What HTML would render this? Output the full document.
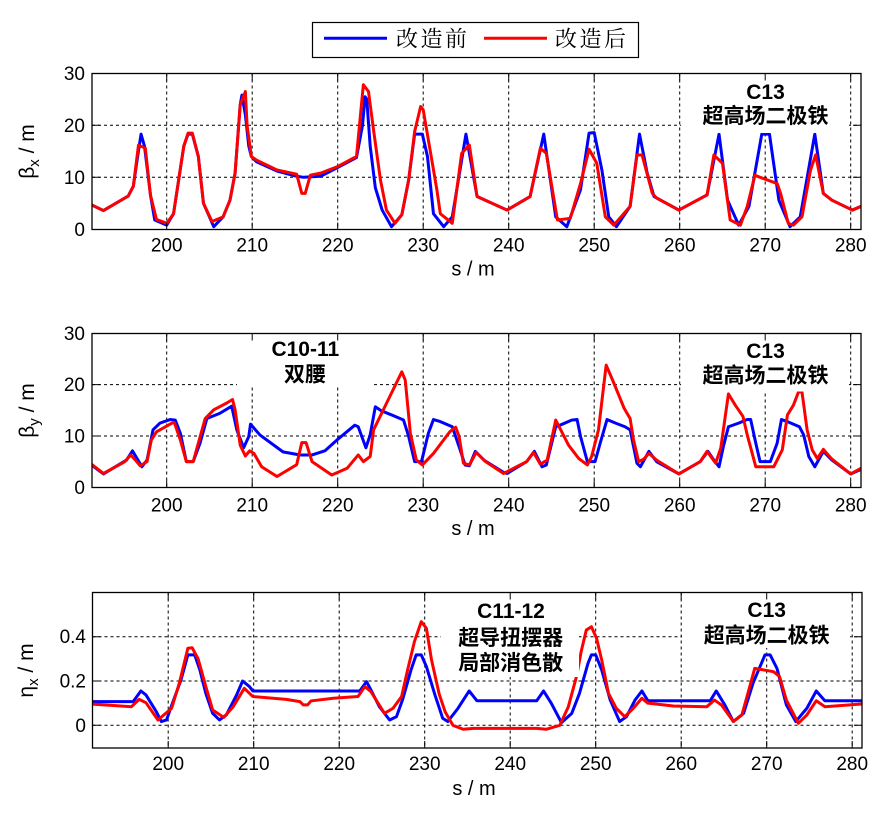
<!DOCTYPE html>
<html><head><meta charset="utf-8"><style>
html,body{margin:0;padding:0;background:#fff;}
svg{display:block;}
text{font-family:"Liberation Sans","Noto Sans CJK SC",sans-serif;fill:#000;}
.tk{font-size:19px;}
.xl{font-size:20px;}
.yl{font-size:21px;}
.an{font-size:21px;font-weight:bold;}
.lg{font-family:"Liberation Serif","Noto Serif CJK SC",serif;font-size:22px;letter-spacing:2.5px;}
.grid{stroke:#000;stroke-width:1;stroke-dasharray:3,3;fill:none;}
.ax{stroke:#000;stroke-width:1.3;fill:none;}
.tick{stroke:#000;stroke-width:1;}
.b{fill:none;stroke:#0000ff;stroke-width:3;stroke-linejoin:round;}
.r{fill:none;stroke:#ff0000;stroke-width:3;stroke-linejoin:round;}
</style></head><body>
<svg width="896" height="817" viewBox="0 0 896 817" xmlns="http://www.w3.org/2000/svg">
<rect width="896" height="817" fill="#fff"/>
<defs>
<clipPath id="c1"><rect x="92" y="73.5" width="769" height="156"/></clipPath>
<clipPath id="c2"><rect x="92" y="333.5" width="769" height="154"/></clipPath>
<clipPath id="c3"><rect x="92.5" y="592.5" width="769.5" height="155.5"/></clipPath>
</defs>

<!-- Legend -->
<rect x="312.5" y="22.5" width="326" height="35" fill="#fff" stroke="#000" stroke-width="1.2"/>
<line x1="324" y1="38.3" x2="387" y2="38.3" stroke="#0000ff" stroke-width="3"/>
<text class="lg" x="396" y="39" dominant-baseline="central">改造前</text>
<line x1="484" y1="38.3" x2="547" y2="38.3" stroke="#ff0000" stroke-width="3"/>
<text class="lg" x="555" y="39" dominant-baseline="central">改造后</text>

<!-- ========== Plot 1 ========== -->
<g class="grid">
<path d="M166.7 73.5V229.5M252.2 73.5V229.5M337.7 73.5V229.5M423.2 73.5V229.5M508.7 73.5V229.5M594.2 73.5V229.5M679.7 73.5V229.5M765.2 73.5V229.5M850.7 73.5V229.5"/>
<path d="M92 177.3H861M92 125.3H861"/>
</g>
<g clip-path="url(#c1)">
<g transform="matrix(8.55 0 0 -5.2 -1543.3 229.3)">
<polyline class="b" vector-effect="non-scaling-stroke" points="191.2,4.7 192.6,3.6 195.5,6.4 196.1,8.3 196.6,14 197.0,18.3 197.4,16 198.1,6.6 198.6,1.8 200,0.8 200.8,3 202,16 202.5,18.3 203,18.3 203.7,14 204.3,5 205.5,0.5 206.6,2.4 207.4,5.6 208,10.8 208.6,24 208.8,25.8 209.2,22 209.6,16 209.9,14 210.5,13 212.9,11.2 215.2,10.2 216,10 218,10.2 219.9,11.8 222.2,13.8 222.9,20 223.2,25.5 223.4,25 223.8,16 224.4,8 225.2,3.7 226.3,0.5 227.5,2.8 228.3,9.5 229,18.3 229.9,18.3 230.5,14 231.2,3 232.4,0.5 233.4,2.4 235,18.3 236.3,6.3 239.8,3.7 242.5,6.3 244.1,18.3 245.5,2.4 246.8,0.5 248.4,7.6 249.4,18.5 250,18.6 250.9,11.4 251.7,2.4 252.6,0.5 254.2,4.4 255.3,18.3 256.2,10.8 257,6.3 259.9,3.7 263.2,6.6 264.6,18.3 265.6,5.6 266.9,0.8 268.1,4.4 269.6,18.3 270.5,18.3 271.6,5.6 272.9,0.5 274.1,2.4 275.8,18.3 276.8,6.9 277.8,5.6 280.2,3.7 281.2,4.4"/>
<polyline class="r" vector-effect="non-scaling-stroke" points="191.2,4.7 192.6,3.6 195.5,6.4 196.1,8.3 196.7,16.2 197.5,15.6 198.1,6.6 198.8,1.9 200,1.15 200.8,3 202,16 202.5,18.5 203,18.5 203.7,14 204.3,5 205.3,1.5 206.6,2.4 207.4,5.6 208,10.8 208.6,24 209.2,26.5 209.4,20 209.9,14 210.5,13.3 212.9,11.4 215.2,10.6 215.8,6.9 216.2,6.9 216.8,10.4 218,10.8 219.9,12 222.2,14 223,27.8 223.6,26.5 224.2,19 225,9.5 225.7,3.7 226.7,1.15 227.5,2.8 228.3,9.5 229,18.8 229.7,23.6 230,23 230.8,15.3 231.6,7.6 232,3 233.4,1.15 234.5,14.6 235.4,16.2 236.3,6.3 239.8,3.7 242.5,6.3 243.7,15.6 244.4,14.6 245.7,1.8 247.2,2.1 248.4,8.8 249.4,15.4 250.3,12.7 251.3,2.4 252.3,0.8 254.2,4.4 255,14.3 255.6,14.3 256.8,6.9 257.3,6 259.9,3.7 263.2,6.6 264,14.3 265,12.7 265.9,1.8 267.1,0.8 267.9,4.4 268.8,10.4 269.4,10 271.4,8.8 271.8,6.9 272.7,1.15 273.3,0.8 274.3,2.4 275.3,11.4 275.9,14.3 276.8,6.9 277.8,5.6 280.2,3.7 281.2,4.4"/>
</g>
</g>
<rect x="681" y="74" width="168" height="59" fill="#fff"/>
<text class="an" x="765.5" y="92.3" text-anchor="middle" dominant-baseline="central">C13</text>
<text class="an" x="765.5" y="116.7" text-anchor="middle" dominant-baseline="central">超高场二极铁</text>
<rect class="ax" x="92" y="73.5" width="769" height="156"/>
<g class="tick">
<path d="M166.7 229.5v-7M252.2 229.5v-7M337.7 229.5v-7M423.2 229.5v-7M508.7 229.5v-7M594.2 229.5v-7M679.7 229.5v-7M765.2 229.5v-7M850.7 229.5v-7"/>
<path d="M166.7 73.5v7M252.2 73.5v7M337.7 73.5v7M423.2 73.5v7M508.7 73.5v7M594.2 73.5v7M679.7 73.5v7M765.2 73.5v7M850.7 73.5v7"/>
<path d="M92 177.3h8M92 125.3h8M861 177.3h-8M861 125.3h-8"/>
</g>
<g class="tk" text-anchor="end">
<text x="85" y="235.8">0</text><text x="85" y="183.8">10</text><text x="85" y="131.8">20</text><text x="85" y="79.8">30</text>
</g>
<g class="tk" text-anchor="middle">
<text x="166.7" y="251.6">200</text><text x="252.2" y="251.6">210</text><text x="337.7" y="251.6">220</text><text x="423.2" y="251.6">230</text><text x="508.7" y="251.6">240</text><text x="594.2" y="251.6">250</text><text x="679.7" y="251.6">260</text><text x="765.2" y="251.6">270</text><text x="850.7" y="251.6">280</text>
</g>
<text class="xl" x="473" y="275.5" text-anchor="middle">s / m</text>
<text class="yl" transform="translate(34,151.5) rotate(-90)" text-anchor="middle">β<tspan dy="5" font-size="15">x</tspan><tspan dy="-5"> / m</tspan></text>

<!-- ========== Plot 2 ========== -->
<g class="grid">
<path d="M166.7 333.5V487.5M252.2 333.5V487.5M337.7 333.5V487.5M423.2 333.5V487.5M508.7 333.5V487.5M594.2 333.5V487.5M679.7 333.5V487.5M765.2 333.5V487.5M850.7 333.5V487.5"/>
<path d="M92 436H861M92 384.6H861"/>
</g>
<g clip-path="url(#c2)">
<g transform="matrix(8.55 0 0 -5.133 -1543.3 487.3)">
<polyline class="b" vector-effect="non-scaling-stroke" points="191.2,4.35 192.6,2.6 195.3,5.3 196,7.1 197.1,4 197.7,5.3 198.4,11.2 199.2,12.5 200.4,13.2 201,13.1 201.6,10.5 202.3,5 203.1,5 203.9,8.6 204.7,13.4 206.2,14.4 207.6,15.8 208.2,11.2 209,7.7 209.6,9.9 209.8,12.3 210.9,10.2 213.6,6.9 215.6,6.3 217,6.3 218.5,7.1 219.9,9.2 222,12.1 222.4,11.8 223.3,7.7 223.8,10.2 224.4,15.7 225.1,14.9 226.3,14.1 227.7,13.1 228.3,9.9 229,5 229.8,5 230.6,10.5 231.2,13.2 232,12.8 233.4,11.8 234.2,7.9 234.9,4.35 235.4,4.2 236.1,7 237.1,5.3 239.4,2.9 239.8,2.7 242.1,5 243,7 243.9,4 244.4,4.35 245.5,11.8 246,12.1 247.4,13.1 248,13.2 248.4,9.9 249.2,5 250.1,5 250.7,8.6 251.5,13.2 252.5,12.5 253.6,11.8 254.2,11.2 255,4.7 255.4,4 256.4,7 257.3,5 259.9,2.6 262.4,5 263.3,7 264,5.3 264.6,4 265.1,7.9 265.7,11.8 266.9,12.5 267.9,13.2 268.3,13.2 268.9,8.6 269.4,5 270.6,5 271.4,8.6 271.9,13.2 272.6,12.8 274,11.8 274.5,10.2 275.1,6 275.8,4 276.8,7 277.8,5.3 280,2.6 281.2,3.5"/>
<polyline class="r" vector-effect="non-scaling-stroke" points="191.2,4.5 192.6,2.7 195.1,5 195.8,6.3 196.5,5 196.9,4.2 197.7,5 198.2,9.2 198.8,10.8 200.6,12.5 200.9,12.6 201.6,9.2 202.3,5 203.1,5 204.5,13.4 205.5,15.1 207,16.4 207.7,17.1 208,15.1 208.6,8.2 209.2,6.1 209.7,7.1 210.2,6.6 211.1,4 212.9,2.1 215.2,4.4 215.8,8.7 216.3,8.7 217,5 219.3,2.4 221.1,3.7 222.4,6.3 223,5 223.8,6 224.2,11.2 227.5,22.5 227.9,20.9 228.5,10.5 229.2,5.3 229.9,4.35 231.2,6.6 233.1,10.8 233.8,11.7 234.2,9.9 234.7,4.7 235.4,4.35 236.2,6.8 237.3,5 239.4,2.7 242.1,5 242.9,6.8 243.7,4.5 244.5,5.3 245.5,13.1 247,8.2 248.2,5.6 249.2,4.35 249.7,6 250.5,11.2 251.4,23.8 252.3,20.3 253.5,15.4 254.2,13.4 254.6,9.2 255.2,5 255.8,5.5 256.4,6.6 257.3,5.3 259.9,2.6 262.4,5 263.2,7 264.2,4.7 264.8,7.6 265.7,18.2 266.5,16 267.4,13.8 267.9,10.2 268.9,4 271,4 272,7.3 272.6,14.1 273.3,16 273.9,18.6 274.3,18.6 274.9,11.2 275.5,7.3 276.1,5.6 276.8,7.4 277.8,5.5 280,2.6 281.2,3.7"/>
</g>
</g>
<rect x="237" y="334" width="136" height="53" fill="#fff"/>
<rect x="681" y="334" width="168" height="57.5" fill="#fff"/>
<text class="an" x="305.3" y="349.3" text-anchor="middle" dominant-baseline="central">C10-11</text>
<text class="an" x="305" y="375" text-anchor="middle" dominant-baseline="central">双腰</text>
<text class="an" x="765.5" y="351.7" text-anchor="middle" dominant-baseline="central">C13</text>
<text class="an" x="765.5" y="376" text-anchor="middle" dominant-baseline="central">超高场二极铁</text>
<rect class="ax" x="92" y="333.5" width="769" height="154"/>
<g class="tick">
<path d="M166.7 487.5v-7M252.2 487.5v-7M337.7 487.5v-7M423.2 487.5v-7M508.7 487.5v-7M594.2 487.5v-7M679.7 487.5v-7M765.2 487.5v-7M850.7 487.5v-7"/>
<path d="M166.7 333.5v7M252.2 333.5v7M337.7 333.5v7M423.2 333.5v7M508.7 333.5v7M594.2 333.5v7M679.7 333.5v7M765.2 333.5v7M850.7 333.5v7"/>
<path d="M92 436h8M92 384.6h8M861 436h-8M861 384.6h-8"/>
</g>
<g class="tk" text-anchor="end">
<text x="85" y="493.8">0</text><text x="85" y="442.5">10</text><text x="85" y="391.1">20</text><text x="85" y="339.8">30</text>
</g>
<g class="tk" text-anchor="middle">
<text x="166.7" y="511.6">200</text><text x="252.2" y="511.6">210</text><text x="337.7" y="511.6">220</text><text x="423.2" y="511.6">230</text><text x="508.7" y="511.6">240</text><text x="594.2" y="511.6">250</text><text x="679.7" y="511.6">260</text><text x="765.2" y="511.6">270</text><text x="850.7" y="511.6">280</text>
</g>
<text class="xl" x="473" y="535" text-anchor="middle">s / m</text>
<text class="yl" transform="translate(34,410.5) rotate(-90)" text-anchor="middle">β<tspan dy="5" font-size="15">y</tspan><tspan dy="-5"> / m</tspan></text>

<!-- ========== Plot 3 ========== -->
<g class="grid">
<path d="M168.2 592.5V748M253.7 592.5V748M339.2 592.5V748M424.7 592.5V748M510.2 592.5V748M595.7 592.5V748M681.2 592.5V748M766.7 592.5V748M852.2 592.5V748"/>
<path d="M92.5 725.3H862M92.5 681H862M92.5 636.7H862"/>
</g>
<g clip-path="url(#c3)">
<g transform="matrix(8.55 0 0 -221.5 -1541.8 725.3)">
<polyline class="b" vector-effect="non-scaling-stroke" points="191.1,0.107 195.9,0.107 196.8,0.155 197.4,0.137 198.6,0.062 199.2,0.017 199.8,0.024 200.5,0.1 201.5,0.205 202.3,0.318 203.1,0.318 203.7,0.25 204.4,0.144 205.2,0.054 206,0.024 206.8,0.047 208,0.137 208.7,0.2 209.5,0.175 209.9,0.155 222.4,0.155 223.2,0.197 223.7,0.16 224.7,0.084 225.9,0.024 226.7,0.039 227.4,0.114 228.4,0.25 229,0.318 229.6,0.318 230.2,0.265 231.2,0.137 232.1,0.032 232.7,0.017 233.9,0.077 235.2,0.155 236.1,0.111 243.1,0.111 243.9,0.155 244.8,0.1 246,0.012 247.2,0.054 248.1,0.144 249.1,0.28 249.5,0.318 250,0.318 250.7,0.25 251.7,0.114 252.8,0.017 253.6,0.039 254.6,0.114 255.4,0.155 256.1,0.111 263.4,0.111 264.1,0.155 265.1,0.092 266.1,0.017 267.3,0.054 268.4,0.19 269.8,0.318 270.4,0.318 271.2,0.257 272.3,0.092 273.4,0.017 274.7,0.077 275.8,0.155 276.8,0.111 281.1,0.111"/>
<polyline class="r" vector-effect="non-scaling-stroke" points="191.1,0.096 195.7,0.084 196.6,0.117 197.4,0.102 198.8,0.024 200.4,0.077 201.3,0.19 202.3,0.348 202.8,0.35 203.5,0.3 204.4,0.175 205.2,0.069 206.5,0.036 207.6,0.084 208.9,0.167 209.7,0.137 209.9,0.13 213.8,0.117 215.4,0.107 215.8,0.092 216.3,0.092 216.7,0.11 219.3,0.122 222.2,0.13 223,0.175 223.7,0.152 225.3,0.054 226.3,0.077 227.3,0.13 228,0.25 228.8,0.378 229.6,0.468 230.2,0.438 230.8,0.295 231.7,0.14 232.4,0.06 233.3,0 234.5,-0.018 235.7,-0.014 243.1,-0.014 244.2,-0.018 245.8,0 246.8,0.084 247.8,0.227 248.3,0.333 248.9,0.43 249.5,0.445 250.1,0.393 250.7,0.295 251.5,0.144 252.4,0.077 253.4,0.039 254.4,0.077 255.4,0.122 256.1,0.1 259.1,0.087 263,0.084 263.9,0.114 264.7,0.092 266.1,0.017 267.1,0.047 267.8,0.144 268.6,0.257 269.2,0.253 270.8,0.242 271.5,0.22 272.3,0.114 273.7,0.009 274.7,0.047 275.8,0.111 276.8,0.084 281.1,0.096"/>
</g>
</g>
<rect x="441" y="593" width="138" height="84" fill="#fff"/>
<rect x="682" y="593" width="168" height="55" fill="#fff"/>
<text class="an" x="511" y="611.7" text-anchor="middle" dominant-baseline="central">C11-12</text>
<text class="an" x="510.7" y="638.3" text-anchor="middle" dominant-baseline="central">超导扭摆器</text>
<text class="an" x="510.7" y="663.3" text-anchor="middle" dominant-baseline="central">局部消色散</text>
<text class="an" x="766.7" y="610.7" text-anchor="middle" dominant-baseline="central">C13</text>
<text class="an" x="766.7" y="636" text-anchor="middle" dominant-baseline="central">超高场二极铁</text>
<rect class="ax" x="92.5" y="592.5" width="769.5" height="155.5"/>
<g class="tick">
<path d="M168.2 748v-7M253.7 748v-7M339.2 748v-7M424.7 748v-7M510.2 748v-7M595.7 748v-7M681.2 748v-7M766.7 748v-7M852.2 748v-7"/>
<path d="M168.2 592.5v7M253.7 592.5v7M339.2 592.5v7M424.7 592.5v7M510.2 592.5v7M595.7 592.5v7M681.2 592.5v7M766.7 592.5v7M852.2 592.5v7"/>
<path d="M92.5 725.3h8M92.5 681h8M92.5 636.7h8M862 725.3h-8M862 681h-8M862 636.7h-8"/>
</g>
<g class="tk" text-anchor="end">
<text x="86" y="731.8">0</text><text x="86" y="687.5">0.2</text><text x="86" y="643.2">0.4</text>
</g>
<g class="tk" text-anchor="middle">
<text x="168.2" y="770">200</text><text x="253.7" y="770">210</text><text x="339.2" y="770">220</text><text x="424.7" y="770">230</text><text x="510.2" y="770">240</text><text x="595.7" y="770">250</text><text x="681.2" y="770">260</text><text x="766.7" y="770">270</text><text x="852.2" y="770">280</text>
</g>
<text class="xl" x="474" y="795" text-anchor="middle">s / m</text>
<text class="yl" transform="translate(33,670.5) rotate(-90)" text-anchor="middle">η<tspan dy="5" font-size="15">x</tspan><tspan dy="-5"> / m</tspan></text>
</svg>
</body></html>
